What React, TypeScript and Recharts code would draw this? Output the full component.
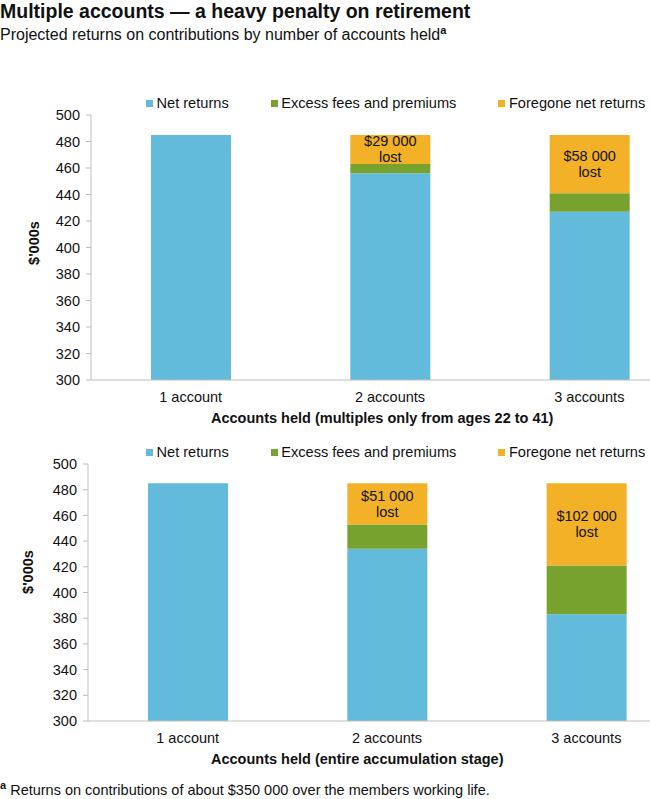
import React from "react";
import { BarChart, Bar, XAxis, YAxis, LabelList } from "recharts";

const categories = ["1 account", "2 accounts", "3 accounts"];

// top panel: multiples only from ages 22 to 41
const netTop = [485, 456, 427];
const feesTop = [0, 7, 14];
const foregoneTop = [0, 22, 44];
const lostTop = ["", "$29 000", "$58 000"];

// bottom panel: entire accumulation stage
const netBottom = [485, 434, 383];
const feesBottom = [0, 19, 38];
const foregoneBottom = [0, 32, 64];
const lostBottom = ["", "$51 000", "$102 000"];

const yTicks = [300, 320, 340, 360, 380, 400, 420, 440, 460, 480, 500];

const SERIES = [
    { key: "net", name: "Net returns", color: "#63bbdb" },
    { key: "fees", name: "Excess fees and premiums", color: "#77a22e" },
    { key: "foregone", name: "Foregone net returns", color: "#f2b127" },
];

const FONT = "'Liberation Sans', Arial, Helvetica, sans-serif";
const AXIS_GREY = "#bfbfbf";

if (typeof document !== "undefined") {
    document.body.style.margin = "0";
}

function buildRows(net: number[], fees: number[], foregone: number[], lost: string[]) {
    return categories.map((name, i) => ({
        name,
        net: net[i],
        fees: fees[i],
        foregone: foregone[i],
        lost: lost[i],
    }));
}

function LostLabel(props: any) {
    const { x, y, width, height, value } = props;
    if (!value) return null;
    const cx = x + width / 2;
    const cy = y + height / 2;
    return (
        <text x={cx} textAnchor="middle" fontSize={14.5} fill="#111" fontFamily={FONT}>
            <tspan x={cx} y={cy - 3}>{value}</tspan>
            <tspan x={cx} y={cy + 13}>lost</tspan>
        </text>
    );
}

function LegendRow({ top }: { top: number }) {
    return (
        <div
            style={{
                position: "absolute",
                top,
                left: 146,
                display: "flex",
                alignItems: "center",
                fontSize: 14.6,
                lineHeight: "18px",
                whiteSpace: "nowrap",
                color: "#111",
            }}
        >
            {SERIES.map((s) => (
                <div key={s.key} style={{ display: "flex", alignItems: "center", marginRight: 42 }}>
                    <span style={{ width: 7, height: 7, background: s.color, marginRight: 3.5, display: "inline-block" }} />
                    <span>{s.name}</span>
                </div>
            ))}
        </div>
    );
}

interface PanelProps {
    top: number;
    data: ReturnType<typeof buildRows>;
    axisWidth: number;
    marginTop: number;
    marginBottom: number;
    marginRight: number;
}

function Panel({ top, data, axisWidth, marginTop, marginBottom, marginRight }: PanelProps) {
    return (
        <div style={{ position: "absolute", top, left: 0 }}>
            <BarChart
                width={700}
                height={340}
                data={data}
                margin={{ top: marginTop, right: marginRight, bottom: marginBottom, left: 0 }}
                barSize={80}
            >
                <XAxis
                    dataKey="name"
                    tickLine={false}
                    tickSize={0}
                    tickMargin={12}
                    height={30}
                    stroke={AXIS_GREY}
                    tick={{ fill: "#111", fontSize: 14.5, fontFamily: FONT }}
                />
                <YAxis
                    domain={[300, 500]}
                    ticks={yTicks}
                    allowDataOverflow
                    width={axisWidth}
                    tickSize={5}
                    tickMargin={6}
                    stroke={AXIS_GREY}
                    tick={{ fill: "#111", fontSize: 14.5, fontFamily: FONT }}
                />
                {SERIES.map((s) => (
                    <Bar key={s.key} dataKey={s.key} name={s.name} stackId="a" fill={s.color} isAnimationActive={false}>
                        {s.key === "foregone" && <LabelList dataKey="lost" content={LostLabel} />}
                    </Bar>
                ))}
            </BarChart>
        </div>
    );
}

function YTitle({ left, top }: { left: number; top: number }) {
    return (
        <div
            style={{
                position: "absolute",
                left,
                top,
                transform: "translate(-50%, -50%) rotate(-90deg)",
                fontWeight: "bold",
                fontSize: 14.5,
                whiteSpace: "nowrap",
                color: "#111",
            }}
        >
            $'000s
        </div>
    );
}

function XTitle({ left, top, text }: { left: number; top: number; text: string }) {
    return (
        <div
            style={{
                position: "absolute",
                left,
                top,
                transform: "translateY(-50%)",
                fontWeight: "bold",
                fontSize: 14.5,
                whiteSpace: "nowrap",
                color: "#111",
            }}
        >
            {text}
        </div>
    );
}

export default function App() {
    const topRows = buildRows(netTop, feesTop, foregoneTop, lostTop);
    const bottomRows = buildRows(netBottom, feesBottom, foregoneBottom, lostBottom);

    return (
        <div
            style={{
                position: "relative",
                width: 650,
                height: 799,
                overflow: "hidden",
                background: "#fff",
                fontFamily: FONT,
                color: "#111",
            }}
        >
            <div style={{ position: "absolute", top: 0, left: 0, fontSize: 19.5, lineHeight: "23px", fontWeight: "bold", whiteSpace: "nowrap" }}>
                Multiple accounts — a heavy penalty on retirement
            </div>
            <div style={{ position: "absolute", top: 24, left: 0, fontSize: 16, whiteSpace: "nowrap" }}>
                Projected returns on contributions by number of accounts held
                <sup style={{ fontSize: 11, fontWeight: "bold" }}>a</sup>
            </div>

            <LegendRow top={94} />
            <Panel top={85} data={topRows} axisWidth={91} marginTop={30} marginBottom={15} marginRight={11} />
            <YTitle left={34} top={243} />
            <XTitle left={211} top={418} text="Accounts held (multiples only from ages 22 to 41)" />

            <LegendRow top={443} />
            <Panel top={435} data={bottomRows} axisWidth={88} marginTop={29} marginBottom={24} marginRight={14} />
            <YTitle left={28} top={572} />
            <XTitle left={211} top={759} text="Accounts held (entire accumulation stage)" />

            <div style={{ position: "absolute", top: 779, left: 0, fontSize: 14.5, whiteSpace: "nowrap" }}>
                <sup style={{ fontSize: 11, fontWeight: "bold" }}>a</sup> Returns on contributions of about $350 000 over the members working life.
            </div>
        </div>
    );
}
